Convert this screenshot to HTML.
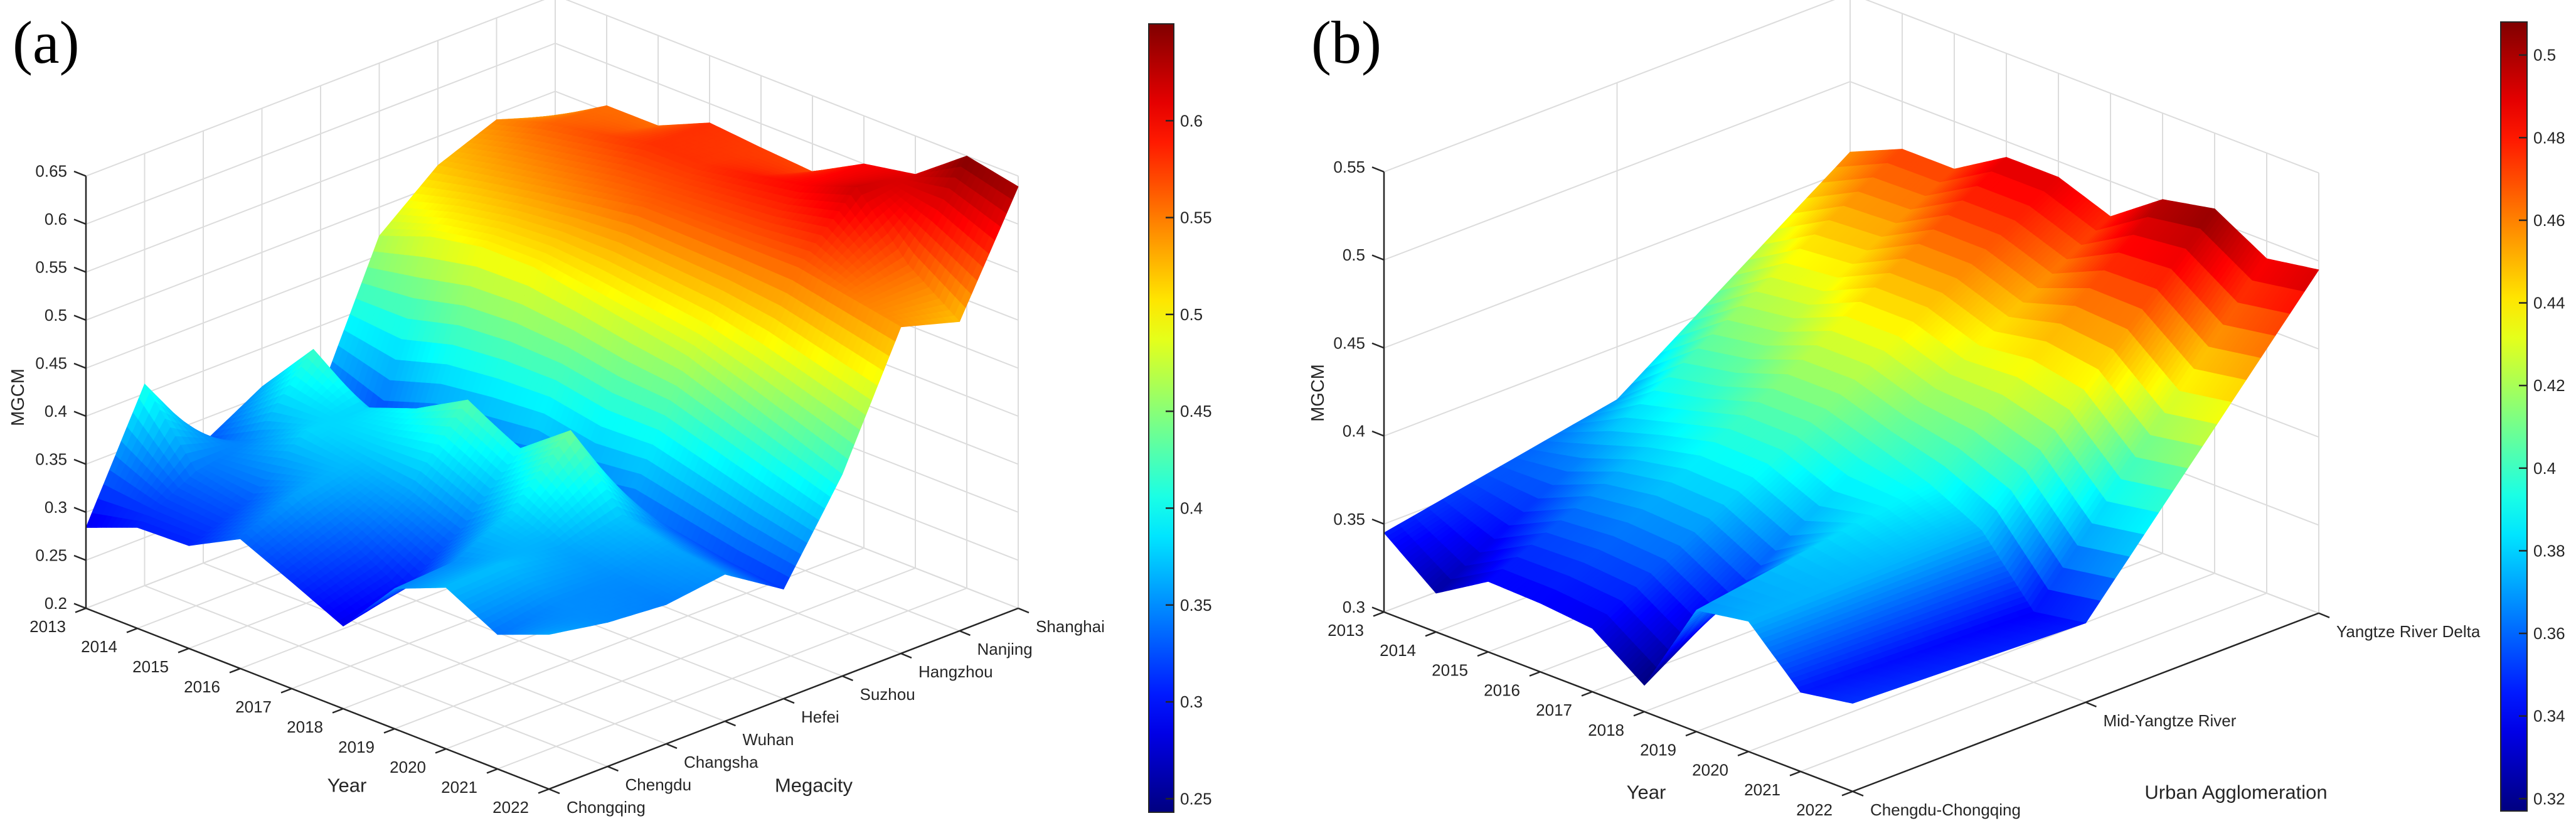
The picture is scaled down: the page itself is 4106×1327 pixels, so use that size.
<!DOCTYPE html>
<html><head><meta charset="utf-8"><style>
html,body{margin:0;padding:0;background:#fff;}
svg{display:block;font-family:"Liberation Sans",sans-serif;}
</style></head><body>
<svg id="fig" width="4106" height="1327" viewBox="0 0 4106 1327" xmlns="http://www.w3.org/2000/svg">
<defs>
<linearGradient id="jetA" x1="0" y1="1" x2="0" y2="0"></linearGradient>
<linearGradient id="jetB" x1="0" y1="1" x2="0" y2="0"></linearGradient>
</defs>
<text x="20" y="100" font-family="Liberation Serif, serif" font-size="96">(a)</text>
<text x="2090" y="100" font-family="Liberation Serif, serif" font-size="96">(b)</text>
<g id="panelA"></g>
<g id="panelB"></g>
</svg>
<script>
// ---------- data: panel (a) ----------
const yearsA = ["2013","2014","2015","2016","2017","2018","2019","2020","2021","2022"];
const citiesA = ["Chongqing","Chengdu","Changsha","Wuhan","Hefei","Suzhou","Hangzhou","Nanjing","Shanghai"];
const mgcmChongqing = [0.284,0.305,0.307,0.335,0.311,0.286,0.346,0.368,0.340,0.361];
const mgcmChengdu   = [0.410,0.340,0.330,0.360,0.330,0.300,0.350,0.370,0.350,0.350];
const mgcmChangsha  = [0.325,0.350,0.380,0.370,0.360,0.340,0.380,0.360,0.350,0.345];
const mgcmWuhan     = [0.360,0.420,0.380,0.400,0.430,0.400,0.440,0.373,0.360,0.353];
const mgcmHefei     = [0.330,0.300,0.320,0.330,0.340,0.330,0.340,0.330,0.320,0.314];
const mgcmSuzhou    = [0.470,0.490,0.500,0.500,0.490,0.480,0.470,0.450,0.430,0.410];
const mgcmHangzhou  = [0.520,0.530,0.540,0.550,0.560,0.560,0.560,0.560,0.550,0.540];
const mgcmNanjing   = [0.544,0.560,0.570,0.580,0.580,0.590,0.600,0.620,0.560,0.522];
const mgcmShanghai  = [0.524,0.556,0.556,0.580,0.575,0.571,0.600,0.610,0.650,0.639];
const zTicksA = [0.2,0.25,0.3,0.35,0.4,0.45,0.5,0.55,0.6,0.65];
const cbTicksA = [0.25,0.3,0.35,0.4,0.45,0.5,0.55,0.6];
// ---------- data: panel (b) ----------
const yearsB = ["2013","2014","2015","2016","2017","2018","2019","2020","2021","2022"];
const regionsB = ["Chengdu-Chongqing","Mid-Yangtze River","Yangtze River Delta"];
const mgcmChengduChongqing = [0.345,0.322,0.340,0.339,0.336,0.315,0.369,0.374,0.345,0.350];
const mgcmMidYangtze       = [0.370,0.394,0.400,0.410,0.410,0.400,0.390,0.375,0.340,0.345];
const mgcmYangtzeDelta     = [0.460,0.473,0.473,0.491,0.491,0.480,0.501,0.507,0.490,0.495];
const zTicksB = [0.3,0.35,0.4,0.45,0.5,0.55];
const cbTicksB = [0.32,0.34,0.36,0.38,0.4,0.42,0.44,0.46,0.48,0.5];

const NS="http://www.w3.org/2000/svg";
function mk(tag, attrs, parent){const e=document.createElementNS(NS,tag);for(const k in attrs)e.setAttribute(k,attrs[k]);if(parent)parent.appendChild(e);return e;}
function jet(t){t=Math.max(0,Math.min(1,t));const c=v=>Math.round(255*Math.max(0,Math.min(1,v)));
  return "rgb("+c(1.5-Math.abs(4*t-3))+","+c(1.5-Math.abs(4*t-2))+","+c(1.5-Math.abs(4*t-1))+")";}

function buildGradient(id){const g=document.getElementById(id);for(let k=0;k<=20;k++){const t=k/20;mk("stop",{offset:(t*100)+"%","stop-color":jet(t)},g);}}
buildGradient("jetA");buildGradient("jetB");

function drawPanel(cfg){
  const root=document.getElementById(cfg.gid);
  const P=(i,j,z)=>[cfg.x0+cfg.ax*i+cfg.bx*j, cfg.y0+cfg.ay*i+cfg.by*j-(z-cfg.zmin)*cfg.kz];
  const nI=cfg.years.length-1, nJ=cfg.cats.length-1;
  const grid=mk("g",{stroke:"#dcdcdc","stroke-width":"2",fill:"none"},root);
  
  
  const line=(a,b,g,extra)=>mk("line",Object.assign({x1:a[0],y1:a[1],x2:b[0],y2:b[1]},extra||{}),g);
  for(let j=0;j<=nJ;j++) line(P(0,j,cfg.zmin),P(0,j,cfg.zmax),grid);
  for(const z of cfg.zTicks) line(P(0,0,z),P(0,nJ,z),grid);
  for(let i=0;i<=nI;i++) line(P(i,nJ,cfg.zmin),P(i,nJ,cfg.zmax),grid);
  for(const z of cfg.zTicks) line(P(0,nJ,z),P(nI,nJ,z),grid);
  for(let i=0;i<=nI;i++) line(P(i,0,cfg.zmin),P(i,nJ,cfg.zmin),grid);
  for(let j=0;j<=nJ;j++) line(P(0,j,cfg.zmin),P(nI,j,cfg.zmin),grid);

  const surf=mk("g",{},root);
  
  
  const Z=(i,j)=>cfg.values[j][i];
  const n=cfg.sub, polys=[];
  for(let i=0;i<nI;i++)for(let j=0;j<nJ;j++){
    const z00=Z(i,j),z10=Z(i+1,j),z01=Z(i,j+1),z11=Z(i+1,j+1);
    const bil=(u,v)=>z00*(1-u)*(1-v)+z10*u*(1-v)+z01*(1-u)*v+z11*u*v;
    for(let a=0;a<n;a++)for(let b=0;b<n;b++){
      const u0=a/n,u1=(a+1)/n,v0=b/n,v1=(b+1)/n;
      const pts=[[u0,v0],[u1,v0],[u1,v1],[u0,v1]].map(([u,v])=>P(i+u,j+v,bil(u,v)));
      const zc=bil((u0+u1)/2,(v0+v1)/2);
      const depth=cfg.ay*(i+(u0+u1)/2)+cfg.by*(j+(v0+v1)/2);
      polys.push({pts,zc,depth});
    }
  }
  polys.sort((p,q)=>p.depth-q.depth);
  for(const p of polys){
    const col=jet((p.zc-cfg.cmin)/(cfg.cmax-cfg.cmin));
    mk("polygon",{points:p.pts.map(q=>q[0].toFixed(1)+","+q[1].toFixed(1)).join(" "),fill:col,stroke:col,"stroke-width":"0.8","stroke-linejoin":"round"},surf);
  }

  const ax=mk("g",{stroke:"#262626","stroke-width":"2.5",fill:"none"},root);
  
  
  line(P(0,0,cfg.zmin),P(0,0,cfg.zmax),ax);
  line(P(0,0,cfg.zmin),P(nI,0,cfg.zmin),ax);
  line(P(nI,0,cfg.zmin),P(nI,nJ,cfg.zmin),ax);
  const txt=mk("g",{fill:"#262626","font-size":"26"},root);
  
  
  for(const z of cfg.zTicks){const p=P(0,0,z);line(p,[p[0]-19,p[1]-7.5],ax);
    const t=mk("text",{x:p[0]-30,y:p[1]-8,"text-anchor":"end","dominant-baseline":"central"},txt);t.textContent=String(z);
    
    }
  cfg.years.forEach((y,i)=>{const p=P(i,0,cfg.zmin);line(p,[p[0]-17,p[1]+6.5],ax);
    const t=mk("text",{x:p[0]-32,y:p[1]+29,"text-anchor":"end","dominant-baseline":"central"},txt);t.textContent=y;
    
    });
  cfg.cats.forEach((c,j)=>{const p=P(nI,j,cfg.zmin);line(p,[p[0]+17,p[1]+7],ax);
    const t=mk("text",{x:p[0]+28,y:p[1]+29,"dominant-baseline":"central"},txt);t.textContent=c;
    
    });
  const yl=mk("text",{x:cfg.yearLbl[0],y:cfg.yearLbl[1],"text-anchor":"middle","dominant-baseline":"central","font-size":"31",fill:"#262626"},root);yl.textContent="Year";
  
  
  const cl=mk("text",{x:cfg.catLbl[0],y:cfg.catLbl[1],"text-anchor":"middle","dominant-baseline":"central","font-size":"31",fill:"#262626"},root);cl.textContent=cfg.catTitle;
  
  
  const zl=mk("text",{x:cfg.zLbl[0],y:cfg.zLbl[1],"text-anchor":"middle","dominant-baseline":"central","font-size":"29",fill:"#262626",transform:"rotate(-90 "+cfg.zLbl[0]+" "+cfg.zLbl[1]+")"},root);zl.textContent="MGCM";
  
  

  const cb=cfg.cb;
  const cbg=mk("g",{},root);
  
  
  mk("rect",{x:cb.x,y:cb.y0,width:cb.w,height:cb.y1-cb.y0,fill:"url(#"+cb.grad+")",stroke:"#262626","stroke-width":"2"},cbg);
  const cy=v=>cb.y1-(v-cfg.cmin)/(cfg.cmax-cfg.cmin)*(cb.y1-cb.y0);
  for(const v of cfg.cbTicks){const y=cy(v);
    mk("line",{x1:cb.x+cb.w-13,y1:y,x2:cb.x+cb.w,y2:y,stroke:"#262626","stroke-width":"2.5"},cbg);
    const t=mk("text",{x:cb.x+cb.w+10,y:y,"dominant-baseline":"central","font-size":"26",fill:"#262626"},cbg);t.textContent=String(v);
    
    }
}

drawPanel({gid:"panelA",x0:137,y0:969,ax:82,ay:32,bx:93.5,by:-36,zmin:0.2,zmax:0.65,kz:1530,
  years:yearsA,cats:citiesA,
  values:[mgcmChongqing,mgcmChengdu,mgcmChangsha,mgcmWuhan,mgcmHefei,mgcmSuzhou,mgcmHangzhou,mgcmNanjing,mgcmShanghai],
  zTicks:zTicksA,cbTicks:cbTicksA,cmin:0.243,cmax:0.65,sub:10,
  yearLbl:[553,1251],catLbl:[1297,1251],catTitle:"Megacity",zLbl:[29,633],
  cb:{x:1831,w:40,y0:38,y1:1294,grad:"jetA"}});
drawPanel({gid:"panelB",x0:2206,y0:975,ax:83,ay:31.75,bx:371.5,by:-142,zmin:0.3,zmax:0.55,kz:2805,
  years:yearsB,cats:regionsB,
  values:[mgcmChengduChongqing,mgcmMidYangtze,mgcmYangtzeDelta],
  zTicks:zTicksB,cbTicks:cbTicksB,cmin:0.317,cmax:0.508,sub:16,
  yearLbl:[2624,1262],catLbl:[3564,1262],catTitle:"Urban Agglomeration",zLbl:[2101,626],
  cb:{x:3986,w:42,y0:35,y1:1292,grad:"jetB"}});
</script>
</body></html>
